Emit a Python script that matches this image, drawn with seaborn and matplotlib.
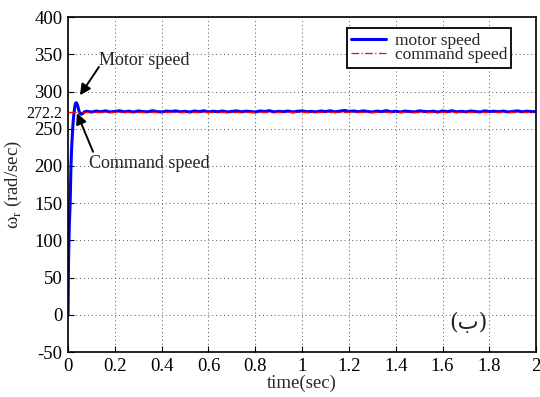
import matplotlib
matplotlib.use("Agg")
import matplotlib.pyplot as plt
import seaborn as sns
import pandas as pd

# ---- data ----
rise_t = [0.0, 0.002, 0.004, 0.006, 0.009, 0.012, 0.015, 0.018, 0.021, 0.025, 0.029,
          0.032, 0.035, 0.038, 0.042, 0.046, 0.050, 0.055, 0.060, 0.066, 0.072]
rise_w = [0, 70, 100, 125, 150, 194, 222, 240, 256, 270, 280,
          284, 285, 284, 280, 275, 271, 269.5, 270, 271.5, 273]
settle_t = [round(0.08 + 0.02 * i, 2) for i in range(97)]
settle_w = [273.5, 272.4, 273.8, 272.9, 274.0, 272.6, 273.3, 274.1, 272.8, 273.6,
            272.5, 273.9, 273.1, 272.7, 274.2, 273.0, 272.6, 273.7, 273.2, 274.0,
            272.8, 273.4, 272.5, 273.9, 273.0, 274.1, 272.7, 273.5, 272.9, 273.8,
            272.6, 273.3, 274.0, 272.8, 273.6, 273.1, 272.5, 273.9, 273.2, 274.2,
            272.7, 273.4, 273.0, 273.8, 272.6, 273.5, 274.0, 272.9, 273.3, 272.7,
            273.9, 273.1, 274.1, 272.8, 273.6, 274.6, 273.4, 273.9, 272.9, 274.0,
            273.2, 272.6, 273.7, 273.0, 274.3, 272.8, 273.5, 272.6, 273.8, 273.1,
            272.7, 274.0, 273.3, 272.9, 273.6, 272.5, 273.9, 273.0, 274.1, 272.8,
            273.4, 272.7, 273.8, 273.2, 272.6, 274.0, 273.1, 273.5, 272.9, 273.7,
            272.6, 273.3, 274.0, 272.8, 273.6, 273.0, 273.2]
command_t = [0.0, 2.0]
command_w = [272.2, 272.2]
xticks = [0, 0.2, 0.4, 0.6, 0.8, 1, 1.2, 1.4, 1.6, 1.8, 2]
xtick_labels = ["0", "0.2", "0.4", "0.6", "0.8", "1", "1.2", "1.4", "1.6", "1.8", "2"]
yticks = [-50, 0, 50, 100, 150, 200, 250, 272.2, 300, 350, 400]
ytick_labels = ["-50", "0", "50", "100", "150", "200", "250", "272.2", "300", "350", "400"]

sns.set_style("ticks")
plt.rcParams['font.family'] = ['Liberation Serif', 'DejaVu Sans']
plt.rcParams['mathtext.fontset'] = 'custom'
plt.rcParams['mathtext.rm'] = 'Liberation Serif'

fig = plt.figure(figsize=(5.40, 3.97), dpi=100)
ax = fig.add_axes([0.126, 0.113, 0.867, 0.844])

cmd_df = pd.DataFrame({"t": command_t, "w": command_w})
mot_df = pd.DataFrame({"t": rise_t + settle_t, "w": rise_w + settle_w})

sns.lineplot(data=mot_df, x="t", y="w", ax=ax, color="blue", lw=2.2,
             label="motor speed", zorder=2)
sns.lineplot(data=cmd_df, x="t", y="w", ax=ax, color="red", lw=0.9,
             linestyle=(0, (6, 2, 1, 2)), label="command speed", zorder=3)

ax.set_xlim(0, 2)
ax.set_ylim(-50, 400)
ax.set_xticks(xticks)
ax.set_xticklabels(xtick_labels, fontsize=13.5)
ax.set_yticks(yticks)
ax.set_yticklabels(ytick_labels, fontsize=13.5)
for lab in ax.get_yticklabels():
    if lab.get_text() == "272.2":
        lab.set_fontsize(11.5)
ax.tick_params(direction="in", length=4, width=0.8, colors="black", pad=4)
ax.grid(True, linestyle=(0, (1, 3)), color="#555555", lw=0.7)
for s in ax.spines.values():
    s.set_color("black")
    s.set_linewidth(1.2)

ax.set_xlabel("time(sec)", fontsize=13.5, labelpad=0)
ax.set_ylabel(r"ω$_\mathrm{r}$ (rad/sec)", fontsize=13.5, labelpad=2)

leg = ax.legend(loc="upper right", bbox_to_anchor=(0.947, 0.967), fontsize=12.5,
                frameon=True, fancybox=False, framealpha=1, edgecolor="black",
                handlelength=2.0, labelspacing=-0.08, borderpad=0.25,
                handletextpad=0.5, borderaxespad=0)
leg.get_frame().set_linewidth(1.3)

arrow = dict(arrowstyle="-|>", color="black", lw=1.4, shrinkA=0, shrinkB=0,
             mutation_scale=16)
ax.text(0.325, 342, "Motor speed", fontsize=13, ha="center", va="center")
ax.annotate("", xy=(0.051, 295), xytext=(0.132, 333), arrowprops=arrow)
ax.text(0.346, 204, "Command speed", fontsize=13, ha="center", va="center")
ax.annotate("", xy=(0.038, 271), xytext=(0.107, 219), arrowprops=arrow)
ax.text(1.71, -11, "(ب)", fontsize=16, ha="center", va="center",
        family=["DejaVu Serif", "DejaVu Sans"])

fig.savefig("out.png", dpi=100)
